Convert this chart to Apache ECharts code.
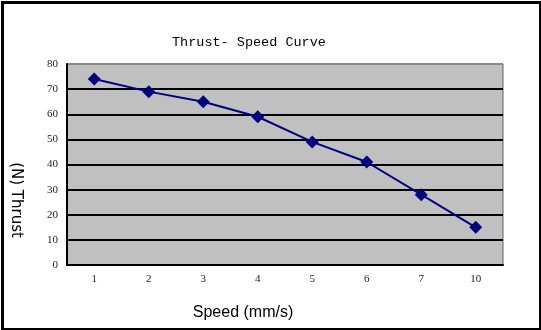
<!DOCTYPE html>
<html><head><meta charset="utf-8">
<script src="https://cdn.jsdelivr.net/npm/echarts@6/dist/echarts.min.js"></script>
<style>html,body{margin:0;padding:0;background:#fff}#c{width:541px;height:330px}</style>
</head><body><div id="c"></div>
<script>
const categories = ['1','2','3','4','5','6','7','10'];
const thrust = [74, 69, 65, 59, 49, 41, 28, 15];
const titleText = 'Thrust- Speed Curve';
const xName = 'Speed (mm/s)';
const yName = '(N) Thrust';

const chart = echarts.init(document.getElementById('c'));
chart.setOption({
  animation: false,
  backgroundColor: '#fff',
  title: {
    text: titleText, left: 167, top: 30,
    textStyle: {fontFamily: 'Liberation Mono', fontSize: 13.5, fontWeight: 'normal', color: '#000'}
  },
  graphic: [{
    type: 'rect', left: 0, top: 0, silent: true,
    shape: {x: 1.5, y: 1.5, width: 538, height: 327},
    style: {fill: 'none', stroke: '#000', lineWidth: 3}
  }, {
    type: 'text', x: 243, y: 313, silent: true,
    style: {text: xName, font: '16px "Liberation Sans"', fill: '#000', align: 'center', verticalAlign: 'middle'}
  }, {
    type: 'text', x: 16, y: 200, rotation: -Math.PI / 2, silent: true,
    style: {text: yName, font: '15px "DejaVu Sans"', fill: '#000', align: 'center', verticalAlign: 'middle'}
  }],
  grid: {left: 67, right: 38, top: 64, bottom: 65, show: true, outerBoundsMode: 'none', containLabel: false,
    backgroundColor: '#c0c0c0', borderColor: '#606060', borderWidth: 1},
  xAxis: {
    type: 'category', data: categories, boundaryGap: true,
    axisLine: {lineStyle: {color: '#000', width: 2}},
    axisTick: {inside: true, length: 4, lineStyle: {color: '#000', width: 2}},
    axisLabel: {fontFamily: 'Liberation Serif', fontSize: 11, color: '#222', margin: 9}
  },
  yAxis: {
    type: 'value', min: 0, max: 80, interval: 10,
    axisLine: {show: true, lineStyle: {color: '#000', width: 2}},
    axisTick: {show: false},
    axisLabel: {fontFamily: 'Liberation Serif', fontSize: 11, color: '#222', margin: 9},
    splitLine: {lineStyle: {color: ['#000','#000','#000','#000','#000','#000','#000','#000','#888'], width: 2}}
  },
  series: [{
    type: 'line', data: thrust,
    symbol: 'diamond', symbolSize: 13,
    lineStyle: {color: '#000080', width: 2},
    itemStyle: {color: '#000080'}
  }]
});
</script></body></html>
